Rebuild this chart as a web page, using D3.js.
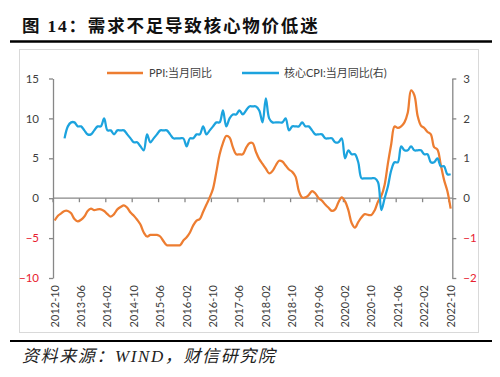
<!DOCTYPE html>
<html>
<head>
<meta charset="utf-8">
<script src="https://cdn.jsdelivr.net/npm/d3@7"></script>
<style>
  body { margin: 0; background: #fff; }
  svg text { font-family: Lato, "Noto Sans CJK SC", sans-serif; }
</style>
</head>
<body>
<svg id="chart" width="500" height="377"></svg>
<script>
// monthly categories 2012-10 .. 2022-10
var months = [];
for (var i = 0; i < 121; i++) {
  var mm = 9 + i; // zero based month from Jan 2012
  var yr = 2012 + Math.floor(mm / 12), mo = (mm % 12) + 1;
  months.push(yr + "-" + (mo < 10 ? "0" + mo : mo));
}

var tickLabels = ["2012-10", "2013-06", "2014-02", "2014-10", "2015-06", "2016-02",
  "2016-10", "2017-06", "2018-02", "2018-10", "2019-06", "2020-02", "2020-10",
  "2021-06", "2022-02", "2022-10"];

// PPI yoy, left axis
var ppi = [
  -2.8, -2.2, -1.9,
  -1.6, -1.6, -1.9, -2.6, -2.9, -2.7, -2.3, -1.6, -1.3, -1.5, -1.4, -1.4,
  -1.6, -2.0, -2.3, -2.0, -1.4, -1.1, -0.9, -1.2, -1.8, -2.2, -2.7, -3.3,
  -4.3, -4.8, -4.6, -4.6, -4.6, -4.8, -5.4, -5.9, -5.9, -5.9, -5.9, -5.9,
  -5.3, -4.9, -4.3, -3.4, -2.8, -2.6, -1.7, -0.8, 0.1, 1.2, 3.3, 5.5,
  6.9, 7.8, 7.6, 6.4, 5.5, 5.5, 5.5, 6.3, 6.9, 6.9, 5.8, 4.9,
  4.3, 3.7, 3.1, 3.4, 4.1, 4.7, 4.6, 4.1, 3.6, 3.3, 2.7, 0.9,
  0.1, 0.1, 0.4, 0.9, 0.6, 0.0, -0.3, -0.8, -1.2, -1.6, -1.4, -0.5,
  0.1, -0.4, -1.5, -3.1, -3.7, -3.0, -2.4, -2.0, -2.1, -2.1, -1.5, -0.4,
  0.3, 1.7, 4.4, 6.8, 9.0, 8.8, 9.0, 9.5, 10.7, 13.5, 12.9, 10.3,
  9.1, 8.8, 8.3, 8.0, 6.4, 6.1, 4.2, 2.3, 0.9, -1.3
];

// core CPI yoy, right axis (starts 2013-01)
var coreCpi = [
  null, null, null,
  1.5, 1.8, 1.9, 1.9, 1.8, 1.8, 1.7, 1.6, 1.6, 1.7, 1.8, 1.8,
  2.0, 1.7, 1.7, 1.6, 1.7, 1.7, 1.7, 1.6, 1.5, 1.4, 1.4, 1.3,
  1.2, 1.6, 1.4, 1.5, 1.6, 1.7, 1.7, 1.7, 1.6, 1.5, 1.5, 1.5,
  1.5, 1.3, 1.5, 1.5, 1.6, 1.6, 1.8, 1.6, 1.7, 1.8, 1.9, 1.9,
  2.2, 1.8, 2.0, 2.1, 2.1, 2.2, 2.1, 2.2, 2.3, 2.3, 2.3, 2.2,
  1.9, 2.5, 2.0, 1.9, 1.9, 1.9, 1.9, 2.0, 1.7, 1.8, 1.8, 1.8,
  1.9, 1.8, 1.8, 1.7, 1.6, 1.6, 1.6, 1.5, 1.5, 1.5, 1.4, 1.4,
  1.5, 1.0, 1.2, 1.1, 1.1, 0.9, 0.5, 0.5, 0.5, 0.5, 0.5, 0.4,
  -0.3, 0.0, 0.3, 0.7, 0.9, 0.9, 1.3, 1.2, 1.2, 1.3, 1.2, 1.2,
  1.2, 1.1, 1.1, 0.9, 0.9, 1.0, 0.8, 0.8, 0.6, 0.6
];

var leftTicks = [15, 10, 5, 0, -5, -10];
var rightTicks = [3, 2, 1, 0, -1, -2];

var orange = "#ED7D31", blue = "#1CA3DE", axisGray = "#878787", red = "#E8202F";

var svg = d3.select("#chart");

// title and rules
svg.append("text").attr("x", 22).attr("y", 32)
  .style("font-family", "'Liberation Serif','Noto Sans CJK SC',serif")
  .style("font-size", "17.5px").style("font-weight", "bold")
  .style("letter-spacing", "1.8px").attr("fill", "#111")
  .text("图 14：需求不足导致核心物价低迷");
svg.append("line").attr("x1", 10).attr("x2", 492).attr("y1", 41.5).attr("y2", 41.5)
  .attr("stroke", "#000").attr("stroke-width", 2.5);
svg.append("line").attr("x1", 10).attr("x2", 492).attr("y1", 341).attr("y2", 341)
  .attr("stroke", "#000").attr("stroke-width", 2);
svg.append("text").attr("x", 22).attr("y", 362)
  .style("font-family", "'Liberation Serif','Noto Sans CJK SC',serif")
  .style("font-size", "17px").style("font-style", "italic")
  .style("letter-spacing", "1.6px").attr("fill", "#222")
  .text("资料来源：WIND，财信研究院");

// chart frame
svg.append("rect").attr("x", 19.5).attr("y", 49.5).attr("width", 459).attr("height", 283)
  .attr("fill", "none").attr("stroke", "#d9d9d9");

var x = d3.scaleBand().domain(months).range([53, 452.3]);
var cx = function (m) { return x(m) + x.bandwidth() / 2; };
var yL = d3.scaleLinear().domain([-10, 15]).range([278, 78.5]);
var yR = d3.scaleLinear().domain([-2, 3]).range([278, 78.5]);

function styleAxis(g) {
  g.select(".domain").attr("stroke", axisGray).attr("stroke-width", 1.3);
  g.selectAll(".tick line").attr("stroke", axisGray).attr("stroke-width", 1.3);
  g.selectAll(".tick text").style("font-size", "11.5px")
    .attr("fill", function (d) { return d < 0 ? red : "#404040"; });
}

svg.append("g").attr("transform", "translate(53,0)")
  .call(d3.axisLeft(yL).tickValues(leftTicks).tickFormat(d3.format("d"))
    .tickSize(4).tickSizeOuter(0).tickPadding(10))
  .call(styleAxis);
svg.append("g").attr("transform", "translate(452.3,0)")
  .call(d3.axisRight(yR).tickValues(rightTicks).tickFormat(d3.format("d"))
    .tickSize(4).tickSizeOuter(0).tickPadding(7))
  .call(styleAxis);

// category axis on zero line
var y0 = yL(0);
svg.append("line").attr("x1", 53).attr("x2", 452.3).attr("y1", y0).attr("y2", y0)
  .attr("stroke", axisGray).attr("stroke-width", 1.3);
svg.append("g").selectAll("line").data(tickLabels).enter().append("line")
  .attr("x1", function (d) { return x(d); }).attr("x2", function (d) { return x(d); })
  .attr("y1", y0).attr("y2", y0 + 4)
  .attr("stroke", axisGray).attr("stroke-width", 1.3);
svg.append("g").selectAll("text").data(tickLabels).enter().append("text")
  .attr("transform", function (d) { return "translate(" + cx(d) + ",285) rotate(-90)"; })
  .attr("text-anchor", "end").attr("dy", "0.35em")
  .style("font-size", "11px").attr("fill", "#404040")
  .text(function (d) { return d; });

// lines
var ppiLine = d3.line()
  .x(function (d, i) { return cx(months[i]); })
  .y(function (d) { return yL(d); })
  .curve(d3.curveCatmullRom.alpha(0.5));
var coreLine = d3.line()
  .defined(function (d) { return d !== null; })
  .x(function (d, i) { return cx(months[i]); })
  .y(function (d) { return yR(d); })
  .curve(d3.curveCatmullRom.alpha(0.5));

svg.append("path").datum(ppi).attr("d", ppiLine)
  .attr("fill", "none").attr("stroke", orange).attr("stroke-width", 2.25);
svg.append("path").datum(coreCpi).attr("d", coreLine)
  .attr("fill", "none").attr("stroke", blue).attr("stroke-width", 2.25);

// legend
var legend = [
  { name: "PPI:当月同比", color: orange, x1: 107, x2: 143, tx: 149 },
  { name: "核心CPI:当月同比(右)", color: blue, x1: 242, x2: 279, tx: 284 }
];
legend.forEach(function (l) {
  svg.append("line").attr("x1", l.x1).attr("x2", l.x2).attr("y1", 73).attr("y2", 73)
    .attr("stroke", l.color).attr("stroke-width", 2.5);
  svg.append("text").attr("x", l.tx).attr("y", 77).style("font-size", "11px")
    .attr("fill", "#404040").text(l.name);
});
</script>
</body>
</html>
